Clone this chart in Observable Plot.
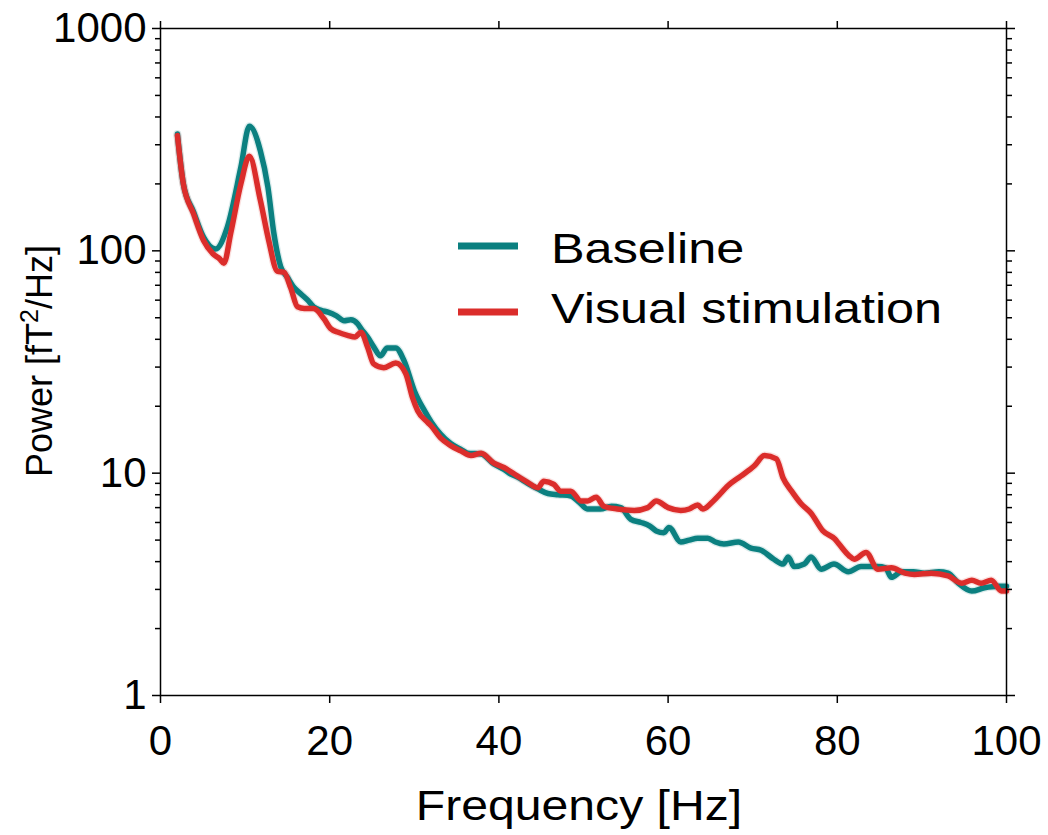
<!DOCTYPE html>
<html><head><meta charset="utf-8">
<script src="https://cdn.jsdelivr.net/npm/d3@7"></script>
<script src="https://cdn.jsdelivr.net/npm/@observablehq/plot@0.6"></script>
<style>
body{margin:0;background:#fff;font-family:"Liberation Sans",Arial,sans-serif;}
#chart{position:relative;width:1048px;height:835px;}
</style></head><body><div id="chart"></div>
<script>
const seriesNames = ["Baseline", "Visual stimulation"];
const seriesColors = ["#0b8080", "#db2d2b"];

const baselineFreq = [2,2.7,3.9,5.1,6.5,7.9,9.5,10.5,11.8,12.7,13.4,14.2,15.0,15.7,16.6,17.4,18.1,19.0,19.8,20.8,21.7,22.5,23.3,23.7,24.5,25.2,26.0,26.8,27.8,28.8,30.0,31.2,32.0,33.1,34.3,35.5,36.3,37.9,39.4,40.6,41.4,42.2,43.4,44.6,45.8,47.0,48.5,49.5,50.5,52.0,53.3,54.4,55.6,56.8,57.8,58.6,59.5,60.1,61.5,62.5,63.5,64.7,65.6,66.6,68.3,69.8,71.0,72.5,73.6,74.2,74.9,76.1,76.9,78.1,79.6,81.3,82.8,84.8,85.7,86.4,87.6,89.0,90.3,92.0,93.1,94.3,95.9,97.4,99.0,100];
const baselinePower = [335,200,150,115,102,128,238,363,282,193,120,85,76,69,64,60,56,54,53,51,48.5,49,47,44.7,40.8,37,33.7,36.6,36.6,32,23.5,19.1,17,15,13.6,12.8,12.3,12.2,11.0,10.4,9.9,9.6,9.0,8.5,8.1,8.0,7.9,7.4,6.9,6.9,7.1,7.0,6.2,6.0,5.8,5.5,5.4,5.7,4.9,5.0,5.1,5.1,4.9,4.8,4.9,4.6,4.5,4.1,3.9,4.2,3.8,3.9,4.2,3.7,3.9,3.6,3.8,3.8,3.75,3.4,3.6,3.6,3.55,3.6,3.55,3.2,2.95,3.05,3.1,3.1];

const stimFreq = [2,2.7,3.9,5.1,6.2,7.0,7.5,8.3,9.5,10.5,11.8,12.8,13.8,14.6,15.4,16.2,17.0,18.1,19.3,20.1,21.0,22.1,23.0,23.7,24.5,25.2,26.4,27.8,29.0,29.8,30.4,31.6,32.0,33.1,34.3,35.5,36.7,37.9,39.4,40.6,42.2,43.4,44.6,45.3,46.5,47.3,48.5,49.7,50.5,51.5,52.4,54.0,56.0,57.6,58.6,60.0,61.5,62.5,63.5,64.1,65.5,67.1,68.6,70.2,71.4,72.8,73.6,74.6,75.7,76.9,78.3,79.7,80.2,81.4,82.0,83.4,84.8,86.4,88.0,89.1,91.1,93.1,94.7,95.9,97.0,98.2,99.4,100];
const stimPower = [330,200,147,111,97,92,88,120,200,266,169,111,81,80,68,56,55,55,49.6,44.7,43,41.7,41,43,36.7,31,29.8,31.3,28,21.8,19.1,16.9,16.3,14.4,13.3,12.6,12.0,12.3,11.1,10.6,9.7,9.1,8.6,9.2,8.9,8.3,8.3,7.5,7.5,7.8,7.1,6.9,6.8,7.0,7.5,7.0,6.8,6.9,7.2,6.9,7.6,8.8,9.7,10.8,12.0,11.6,9.5,8.3,7.3,6.6,5.5,5.06,4.8,4.25,4.1,4.4,3.7,3.75,3.55,3.5,3.55,3.45,3.2,3.3,3.2,3.3,2.95,2.95];

const xTicks = [0, 20, 40, 60, 80, 100];
const yMajorTicks = [1, 10, 100, 1000];
const yMinorTicks = [2,3,4,5,6,7,8,9,20,30,40,50,60,70,80,90,200,300,400,500,600,700,800,900];
const xLabel = "Frequency [Hz]";
const yLabelParts = ["Power [fT", "2", "/Hz]"];

const rows = [
  ...baselineFreq.map((f, i) => ({series: seriesNames[0], f, p: baselinePower[i]})),
  ...stimFreq.map((f, i) => ({series: seriesNames[1], f, p: stimPower[i]}))
];

const plot = Plot.plot({
  width: 1048, height: 835,
  marginLeft: 160, marginRight: 42, marginTop: 28, marginBottom: 140,
  style: {fontFamily: "'Liberation Sans', Arial, sans-serif", fontSize: "42px", color: "#000", background: "#fff", overflow: "visible"},
  x: {domain: [0, 100]},
  y: {type: "log", domain: [1, 1000]},
  color: {domain: seriesNames, range: seriesColors},
  marks: [
    Plot.line(rows, {x: "f", y: "p", z: "series", stroke: "series", strokeWidth: 8, strokeOpacity: 0.15, curve: "monotone-x"}),
    Plot.line(rows, {x: "f", y: "p", z: "series", stroke: "series", strokeWidth: 5.5, curve: "monotone-x"}),
    Plot.frame({stroke: "#000", strokeWidth: 1.5}),
    Plot.axisX({ticks: xTicks, tickSize: 8, tickPadding: 22, fontSize: 42, label: null, strokeWidth: 1.5, tickFormat: d => String(d)}),
    Plot.axisX({anchor: "top", ticks: xTicks, tickSize: 8, fill: "none", label: null, strokeWidth: 1.5}),
    Plot.axisY({ticks: yMajorTicks, tickSize: 8, tickPadding: 6, fontSize: 42, label: null, strokeWidth: 1.5, tickFormat: d => String(d)}),
    Plot.axisY({ticks: yMinorTicks, tickSize: 5, fill: "none", label: null, strokeWidth: 1.5}),
    Plot.axisY({anchor: "right", ticks: yMajorTicks, tickSize: 8, fill: "none", label: null, strokeWidth: 1.5}),
    Plot.axisY({anchor: "right", ticks: yMinorTicks, tickSize: 5, fill: "none", label: null, strokeWidth: 1.5})
  ]
});

const svg = d3.select(plot);
const ann = svg.append("g").attr("font-family", "'Liberation Sans', Arial, sans-serif").attr("fill", "#000");
ann.append("text").attr("transform", "translate(579,820) scale(1.12,1)").attr("text-anchor", "middle").attr("font-size", 43).text(xLabel);
const yl = ann.append("text").attr("transform", "translate(52,361) rotate(-90)").attr("text-anchor", "middle").attr("font-size", 36);
yl.append("tspan").text(yLabelParts[0]);
yl.append("tspan").attr("dy", -14).attr("font-size", 25).text(yLabelParts[1]);
yl.append("tspan").attr("dy", 14).text(yLabelParts[2]);

const legendRows = [{y: 246, ty: 263}, {y: 312, ty: 323}];
seriesNames.forEach((name, i) => {
  ann.append("line").attr("x1", 458).attr("x2", 518).attr("y1", legendRows[i].y).attr("y2", legendRows[i].y)
    .attr("stroke", seriesColors[i]).attr("stroke-width", 7);
  ann.append("text").attr("transform", `translate(551,${legendRows[i].ty}) scale(1.2,1)`)
    .attr("text-anchor", "start").attr("font-size", 42).text(name);
});

document.getElementById("chart").appendChild(plot);
</script>
</body></html>
